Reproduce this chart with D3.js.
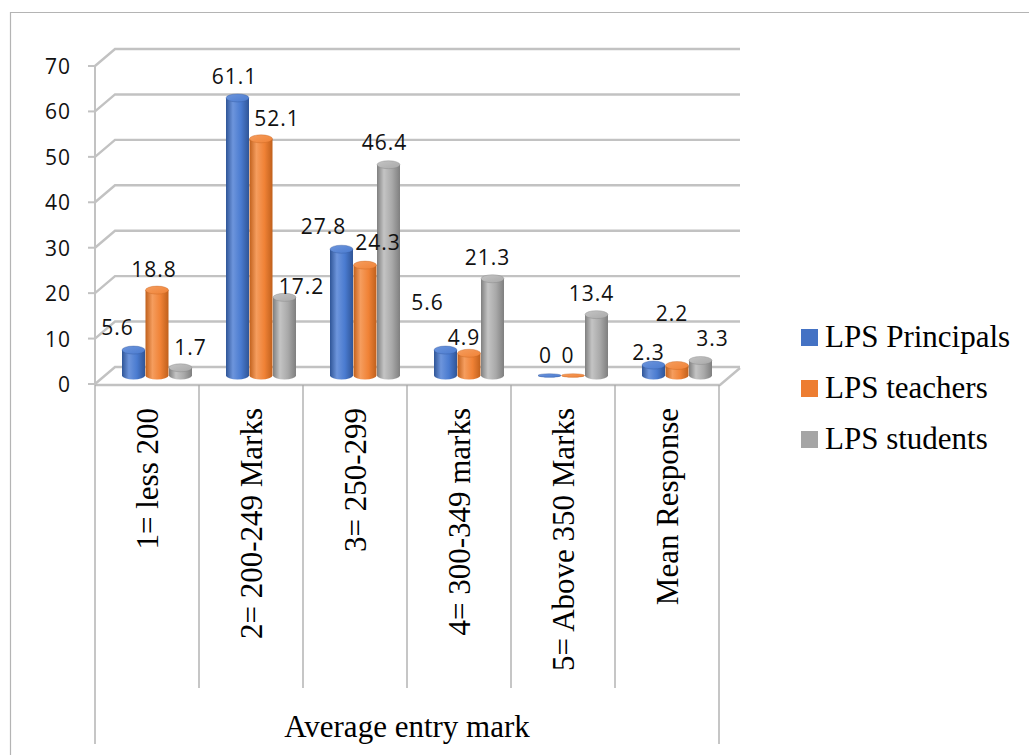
<!DOCTYPE html>
<html>
<head>
<meta charset="utf-8">
<script src="https://cdn.jsdelivr.net/npm/d3@7"></script>
<style>
  html, body { margin: 0; padding: 0; background: #fff; }
  svg { display: block; }
</style>
</head>
<body>
<svg id="chart" width="1029" height="755"></svg>
<script>
// Chart data
const categories = ["1= less 200", "2= 200-249 Marks", "3= 250-299", "4= 300-349 marks", "5= Above 350 Marks", "Mean Response"];
const seriesNames = ["LPS Principals", "LPS teachers", "LPS students"];
const principals = [5.6, 61.1, 27.8, 5.6, 0, 2.3];
const teachers = [18.8, 52.1, 24.3, 4.9, 0, 2.2];
const students = [1.7, 17.2, 46.4, 21.3, 13.4, 3.3];
const yTicks = [0, 10, 20, 30, 40, 50, 60, 70];
const axisTitle = "Average entry mark";

// Presentation settings
const seriesColors = ["#4472C4", "#ED7D31", "#A5A5A5"];
const shades = [
  { dark: "#2f5597", mid: "#4a7bd0", light: "#6d95dc" },
  { dark: "#c0601c", mid: "#f08236", light: "#f59d5e" },
  { dark: "#7f7f7f", mid: "#a9a9a9", light: "#c4c4c4" }
];
// label offsets (dx, dy) from the top of each cylinder, per category and series
const labelNudge = [
  [[-16, -23], [-3, -21], [10, -21]],
  [[-3, -22], [16, -21], [17, -11]],
  [[-18, -23], [13, -23], [-4, -23]],
  [[-18, -48], [-5, -16], [-5, -22]],
  [[-4, -21], [-5, -21], [-5, -22]],
  [[-5, -13], [-5, -53], [12, -23]]
];

const values = [principals, teachers, students];
const svg = d3.select("#chart");

const plotLeft = 95, plotRight = 719;
const DX = 20, DY = -17; // depth of the 3D box

const x = d3.scaleBand().domain(categories).range([plotLeft, plotRight]);
const xs = d3.scaleBand().domain(seriesNames).range([0, 70.5]);
const y = d3.scaleLinear().domain([0, 70]).range([384, 66]);

// gradients for cylinder bodies and tops
const defs = svg.append("defs");
shades.forEach((s, i) => {
  const g = defs.append("linearGradient").attr("id", "body" + i)
    .attr("x1", 0).attr("x2", 1).attr("y1", 0).attr("y2", 0);
  g.append("stop").attr("offset", "0%").attr("stop-color", s.dark);
  g.append("stop").attr("offset", "30%").attr("stop-color", s.light);
  g.append("stop").attr("offset", "65%").attr("stop-color", s.mid);
  g.append("stop").attr("offset", "100%").attr("stop-color", s.dark);
  const t = defs.append("linearGradient").attr("id", "top" + i)
    .attr("x1", 0).attr("x2", 1).attr("y1", 0).attr("y2", 1);
  t.append("stop").attr("offset", "0%").attr("stop-color", s.light);
  t.append("stop").attr("offset", "100%").attr("stop-color", s.mid);
});

// outer chart frame
svg.append("path")
  .attr("d", "M10.5,755 L10.5,12.5 L1029,12.5")
  .attr("fill", "none").attr("stroke", "#b4b4b4").attr("stroke-width", 1.2);

const gridColor = "#c2c2c2";
const grid = svg.append("g").attr("fill", "none").attr("stroke", gridColor).attr("stroke-width", 2.4);

// floor
grid.append("path")
  .attr("d", `M${plotLeft},${y(0) + 1} L${plotRight + 1},${y(0) + 1} L${plotRight + 1 + DX},${y(0) + 1 + DY}`);

// side wall diagonals and back-wall gridlines
yTicks.forEach(v => {
  const yy = y(v);
  grid.append("path")
    .attr("d", `M${plotLeft},${yy} L${plotLeft + DX},${yy + DY} L${plotRight + 1 + DX},${yy + DY}`);
});

// value axis line and ticks
const axisG = svg.append("g");
axisG.append("line")
  .attr("x1", plotLeft).attr("x2", plotLeft)
  .attr("y1", y(70)).attr("y2", y(0) + 1)
  .attr("stroke", gridColor).attr("stroke-width", 2);
axisG.selectAll("line.tick").data(yTicks).join("line")
  .attr("class", "tick")
  .attr("x1", plotLeft - 7).attr("x2", plotLeft)
  .attr("y1", d => y(d)).attr("y2", d => y(d))
  .attr("stroke", gridColor).attr("stroke-width", 2);
axisG.selectAll("text").data(yTicks).join("text")
  .attr("x", 71).attr("y", d => y(d))
  .attr("text-anchor", "end").attr("dominant-baseline", "central")
  .attr("font-family", "'Open Sans', sans-serif").attr("font-size", 21)
  .attr("letter-spacing", 1)
  .attr("fill", "#111")
  .text(d => d);

// cylinders, drawn at half depth
const halfDX = DX / 2, halfDY = DY / 2;
const barW = 23;
const barsG = svg.append("g");
const labelsG = svg.append("g");

categories.forEach((cat, ci) => {
  seriesNames.forEach((sn, si) => {
    const v = values[si][ci];
    const left = x(cat) + (x.bandwidth() - xs.range()[1]) / 2 + xs(sn) + halfDX + (xs.bandwidth() - barW) / 2;
    const right = left + barW;
    const cx = left + barW / 2;
    const base = y(0) + halfDY;
    const top = y(v) + halfDY;
    const rx = barW / 2;
    const ry = v === 0 ? 1.8 : 4;
    const g = barsG.append("g");
    g.append("path")
      .attr("d", `M${left},${top} L${left},${base} A${rx},${ry} 0 0 0 ${right},${base} L${right},${top} Z`)
      .attr("fill", `url(#body${si})`);
    g.append("ellipse")
      .attr("cx", cx).attr("cy", top).attr("rx", rx).attr("ry", ry)
      .attr("fill", `url(#top${si})`)
      .attr("stroke", shades[si].dark).attr("stroke-width", 0.6).attr("stroke-opacity", 0.6);

    const [ndx, ndy] = labelNudge[ci][si];
    labelsG.append("text")
      .attr("x", cx + ndx).attr("y", top + ndy)
      .attr("text-anchor", "middle").attr("dominant-baseline", "central")
      .attr("font-family", "'Open Sans', sans-serif").attr("font-size", 21)
      .attr("letter-spacing", 1)
      .attr("fill", "#111")
      .text(v);
  });
});

// category table below the floor
const tableG = svg.append("g").attr("stroke", "#a8a8a8").attr("stroke-width", 1.3);
d3.range(categories.length + 1).forEach(i => {
  const xx = i === categories.length ? plotRight : x(categories[i]);
  const outer = i === 0 || i === categories.length;
  tableG.append("line")
    .attr("x1", xx).attr("x2", xx)
    .attr("y1", y(0) + 1).attr("y2", outer ? 744 : 688);
});

svg.append("g").selectAll("text").data(categories).join("text")
  .attr("transform", d => `translate(${x(d) + x.bandwidth() / 2},408) rotate(-90)`)
  .attr("text-anchor", "end").attr("dominant-baseline", "central")
  .attr("font-family", "'Liberation Serif', 'Times New Roman', serif").attr("font-size", 31)
  .attr("fill", "#000")
  .text(d => d);

svg.append("text")
  .attr("x", (plotLeft + plotRight) / 2).attr("y", 737)
  .attr("text-anchor", "middle")
  .attr("font-family", "'Liberation Serif', 'Times New Roman', serif").attr("font-size", 31)
  .attr("fill", "#000")
  .text(axisTitle);

// legend
const legend = svg.append("g");
seriesNames.forEach((name, i) => {
  const ly = 329 + i * 51;
  legend.append("rect")
    .attr("x", 801).attr("y", ly).attr("width", 17).attr("height", 17)
    .attr("fill", seriesColors[i]);
  legend.append("text")
    .attr("x", 825).attr("y", ly + 18)
    .attr("font-family", "'Liberation Serif', 'Times New Roman', serif").attr("font-size", 31)
    .attr("fill", "#000")
    .text(name);
});
</script>
</body>
</html>
